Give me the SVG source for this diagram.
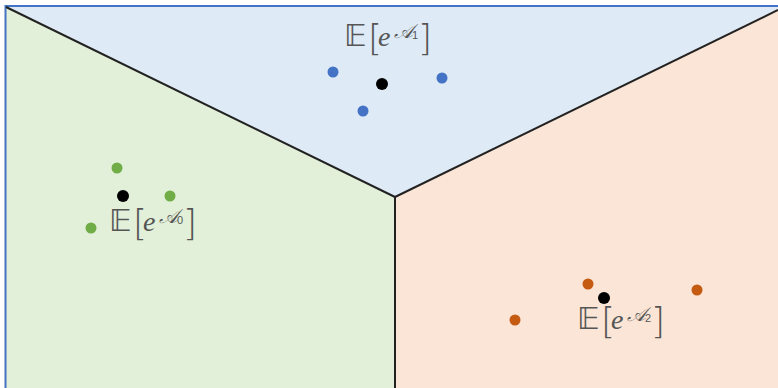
<svg xmlns="http://www.w3.org/2000/svg" width="778" height="388" viewBox="0 0 778 388">
<style>
.lbl{fill:#555;font-family:"DejaVu Serif","Liberation Serif",serif}
.E{font-size:31px;font-family:"DejaVu Sans",serif}
.br{font-size:36px;font-family:"DejaVu Sans","Lato",sans-serif;font-weight:200}
.it{font-size:28px;font-style:italic;font-family:"Liberation Serif",serif}
.sup{font-size:20px;font-style:italic;font-family:"DejaVu Sans","Liberation Serif",serif}
.sub{font-size:11px;font-family:"Liberation Sans",sans-serif}
.b{fill:#4472C4}.g{fill:#70AD47}.o{fill:#C55A11}.k{fill:#000}
.edge{stroke:#222;stroke-width:2;fill:none}
</style>
<rect width="778" height="388" fill="#fff"/>
<g id="region-top"><polygon points="6,6 778,6 778,9 395,197" fill="#DEEBF7"/></g>
<g id="region-left"><polygon points="6,6 395,197 395,388 6,388" fill="#E2F0D9"/></g>
<g id="region-right"><polygon points="395,197 778,9 778,388 395,388" fill="#FBE5D6"/></g>
<g id="frame" fill="none" stroke="#4472C4" stroke-width="2">
<line x1="5.5" y1="5" x2="5.5" y2="388"/>
<line x1="5" y1="6" x2="778" y2="6"/>
</g>
<g id="connectors">
<line class="edge" x1="6" y1="7" x2="395" y2="197"/>
<line class="edge" x1="395" y1="197" x2="778" y2="10"/>
<line class="edge" x1="395" y1="197" x2="395" y2="388"/>
</g>
<g id="cluster1">
<circle class="b" cx="333" cy="72" r="5.5"/><circle class="b" cx="442" cy="78" r="5.5"/><circle class="b" cx="363" cy="111" r="5.5"/><circle class="k" cx="382" cy="84" r="6"/>
<text class="lbl"><tspan class="E" x="344" y="46">𝔼</tspan><tspan class="br" x="368" y="50">[</tspan><tspan class="it" x="378" y="46">e</tspan><tspan class="sup" x="394" y="38">𝒜</tspan><tspan class="sub" x="412" y="39">1</tspan><tspan class="br" x="418" y="50">]</tspan></text>
</g>
<g id="cluster0">
<circle class="g" cx="117" cy="168" r="5.5"/><circle class="g" cx="170" cy="196" r="5.5"/><circle class="g" cx="91" cy="228" r="5.5"/><circle class="k" cx="123" cy="196" r="6"/>
<text class="lbl"><tspan class="E" x="109" y="231">𝔼</tspan><tspan class="br" x="133" y="235">[</tspan><tspan class="it" x="143" y="231">e</tspan><tspan class="sup" x="159" y="223">𝒜</tspan><tspan class="sub" x="177" y="224">0</tspan><tspan class="br" x="183" y="235">]</tspan></text>
</g>
<g id="cluster2">
<circle class="o" cx="588" cy="284" r="5.5"/><circle class="o" cx="697" cy="290" r="5.5"/><circle class="o" cx="515" cy="320" r="5.5"/><circle class="k" cx="604" cy="298" r="6"/>
<text class="lbl"><tspan class="E" x="577" y="329">𝔼</tspan><tspan class="br" x="601" y="333">[</tspan><tspan class="it" x="611" y="329">e</tspan><tspan class="sup" x="627" y="321">𝒜</tspan><tspan class="sub" x="645" y="322">2</tspan><tspan class="br" x="651" y="333">]</tspan></text>
</g>
</svg>
